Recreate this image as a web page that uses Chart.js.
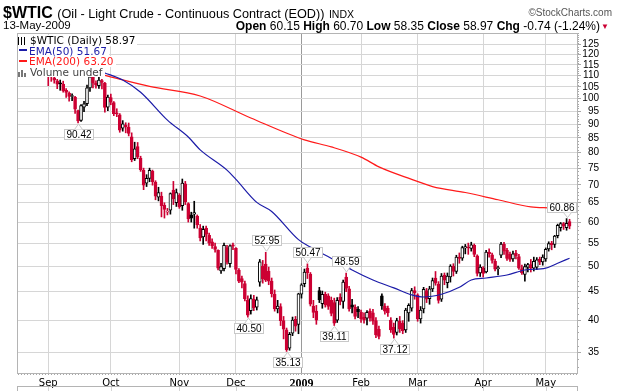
<!DOCTYPE html>
<html>
<head>
<meta charset="utf-8">
<script src="https://cdn.jsdelivr.net/npm/chart.js@4.4.0/dist/chart.umd.min.js"></script>
<style>
html, body { margin: 0; padding: 0; background: #fff; }
#wrap { position: relative; width: 621px; height: 391px; overflow: hidden; }
#c { position: absolute; left: 0; top: 0; }
.t { position: absolute; white-space: nowrap; font-family: "Liberation Sans", Arial, sans-serif; color: #000; }
#leg { position: absolute; left: 18px; top: 35px; font: 10.5px "DejaVu Sans", sans-serif; }
#leg div { background: #fff; width: fit-content; height: 10.5px; line-height: 10.5px; padding-right: 2px; white-space: nowrap; }
.dash { display: inline-block; width: 8px; height: 2px; margin: 0 2px 3px 1px; vertical-align: middle; }
.ic { display: inline-block; width: 9px; height: 8px; margin-right: 3px; vertical-align: -1px; }
</style>
</head>
<body>
<div id="wrap">
  <canvas id="c" width="621" height="391"></canvas>

  <div class="t" style="left:3px; top:4px;"><span style="font-weight:bold; font-size:16px;">$WTIC</span> <span style="font-size:12.7px;">(Oil - Light Crude - Continuous Contract (EOD))</span> <span style="font-size:10.5px;">INDX</span></div>
  <div class="t" style="right:9px; top:7px; font-size:10px; color:#555;">&copy;StockCharts.com</div>
  <div class="t" style="left:3px; top:19px; font-size:11.5px;">13-May-2009</div>
  <div class="t" style="right:21px; top:19px; font-size:12px;"><b>Open</b> 60.15 <b>High</b> 60.70 <b>Low</b> 58.35 <b>Close</b> 58.97 <b>Chg</b> -0.74 (-1.24%)</div>
  <div class="t" style="right:12px; top:22px; font-size:8px; color:#cc0033;">&#9660;</div>

  <div id="leg">
    <div><span class="ic" style="background:linear-gradient(90deg,#000 0 1px,transparent 1px 3px,#000 3px 4px,transparent 4px 6px,#000 6px 7px,transparent 7px);"></span>$WTIC (Daily) 58.97</div>
    <div style="color:#1c1ca8;"><span class="dash" style="background:#1c1ca8;"></span>EMA(50) 51.67</div>
    <div style="color:#ff1a1a;"><span class="dash" style="background:#ff1a1a;"></span>EMA(200) 63.20</div>
    <div style="color:#444;"><span class="ic" style="background:linear-gradient(0deg,#777 0 5px,transparent 5px) 0 0/2px 8px no-repeat, linear-gradient(0deg,#777 0 7px,transparent 7px) 3px 0/2px 8px no-repeat, linear-gradient(0deg,#777 0 4px,transparent 4px) 6px 0/2px 8px no-repeat;"></span>Volume undef</div>
  </div>
</div>

<script>
// empty slots before/after the data (Aug is hidden under the legend)
const augDates = ['2008-08-18','2008-08-19','2008-08-20','2008-08-21','2008-08-22','2008-08-25','2008-08-26','2008-08-27','2008-08-28','2008-08-29'];
const padDates = ['2009-05-14','2009-05-15'];

const dates = [
  '2008-09-02','2008-09-03','2008-09-04','2008-09-05','2008-09-08','2008-09-09','2008-09-10','2008-09-11','2008-09-12','2008-09-15','2008-09-16','2008-09-17','2008-09-18','2008-09-19','2008-09-22','2008-09-23','2008-09-24','2008-09-25','2008-09-26','2008-09-29','2008-09-30',
  '2008-10-01','2008-10-02','2008-10-03','2008-10-06','2008-10-07','2008-10-08','2008-10-09','2008-10-10','2008-10-13','2008-10-14','2008-10-15','2008-10-16','2008-10-17','2008-10-20','2008-10-21','2008-10-22','2008-10-23','2008-10-24','2008-10-27','2008-10-28','2008-10-29','2008-10-30','2008-10-31',
  '2008-11-03','2008-11-04','2008-11-05','2008-11-06','2008-11-07','2008-11-10','2008-11-11','2008-11-12','2008-11-13','2008-11-14','2008-11-17','2008-11-18','2008-11-19','2008-11-20','2008-11-21','2008-11-24','2008-11-25','2008-11-26','2008-11-28',
  '2008-12-01','2008-12-02','2008-12-03','2008-12-04','2008-12-05','2008-12-08','2008-12-09','2008-12-10','2008-12-11','2008-12-12','2008-12-15','2008-12-16','2008-12-17','2008-12-18','2008-12-19','2008-12-22','2008-12-23','2008-12-24','2008-12-26','2008-12-29','2008-12-30','2008-12-31',
  '2009-01-02','2009-01-05','2009-01-06','2009-01-07','2009-01-08','2009-01-09','2009-01-12','2009-01-13','2009-01-14','2009-01-15','2009-01-16','2009-01-20','2009-01-21','2009-01-22','2009-01-23','2009-01-26','2009-01-27','2009-01-28','2009-01-29','2009-01-30',
  '2009-02-02','2009-02-03','2009-02-04','2009-02-05','2009-02-06','2009-02-09','2009-02-10','2009-02-11','2009-02-12','2009-02-13','2009-02-17','2009-02-18','2009-02-19','2009-02-20','2009-02-23','2009-02-24','2009-02-25','2009-02-26','2009-02-27',
  '2009-03-02','2009-03-03','2009-03-04','2009-03-05','2009-03-06','2009-03-09','2009-03-10','2009-03-11','2009-03-12','2009-03-13','2009-03-16','2009-03-17','2009-03-18','2009-03-19','2009-03-20','2009-03-23','2009-03-24','2009-03-25','2009-03-26','2009-03-27','2009-03-30','2009-03-31',
  '2009-04-01','2009-04-02','2009-04-03','2009-04-06','2009-04-07','2009-04-08','2009-04-09','2009-04-13','2009-04-14','2009-04-15','2009-04-16','2009-04-17','2009-04-20','2009-04-21','2009-04-22','2009-04-23','2009-04-24','2009-04-27','2009-04-28','2009-04-29','2009-04-30',
  '2009-05-01','2009-05-04','2009-05-05','2009-05-06','2009-05-07','2009-05-08','2009-05-11','2009-05-12','2009-05-13'
];

const opens = [
  113.5,109.5,109.0,107.6,106.6,106.2,103.5,102.3,100.9,100.5,95.2,91.4,96.5,97.9,104.5,109.4,106.6,105.5,107.8,106.5,96.5,
  100.4,98.4,94.2,93.5,88.5,89.6,88.9,85.4,78.0,82.0,78.2,74.3,70.5,71.9,74.0,70.8,66.5,66.8,64.3,62.5,63.0,68.5,65.0,
  67.0,64.2,70.3,64.8,61.8,62.0,61.5,58.5,56.4,58.5,56.8,55.3,54.2,53.4,49.0,49.5,54.0,50.5,54.6,
  53.8,49.2,47.5,46.5,43.5,41.6,43.6,42.2,46.8,50.0,50.4,49.0,47.0,44.5,41.9,42.3,39.9,38.4,35.6,37.9,40.1,39.3,
  44.5,46.5,49.6,48.4,42.4,41.5,45.2,42.8,44.5,44.2,43.4,43.0,40.0,44.0,43.2,47.8,45.5,42.6,42.2,41.8,
  41.3,40.5,40.3,41.5,41.2,39.9,38.5,44.2,42.4,42.0,40.0,38.8,38.0,39.8,39.5,38.4,41.2,42.0,45.2,
  44.4,40.2,41.9,45.2,43.7,45.5,47.6,46.4,43.6,48.2,46.7,47.8,50.0,48.9,51.9,51.7,53.9,54.1,53.8,54.5,52.2,48.6,
  49.6,48.8,53.0,52.4,51.0,49.5,52.3,54.8,53.4,52.5,51.5,52.8,52.0,49.5,48.3,49.8,50.3,49.6,49.8,51.5,50.9,
  51.5,53.7,55.0,54.7,56.7,58.6,59.6,58.6,60.15
];
const highs = [
  115.0,111.0,109.6,108.3,108.0,107.5,104.2,102.8,102.0,101.0,95.4,97.6,98.9,105.8,110.5,110.0,107.6,109.2,108.3,107.0,101.5,
  101.9,98.8,95.9,94.0,91.3,90.5,90.4,86.8,83.5,83.4,78.8,75.0,73.0,75.0,74.4,71.2,69.3,67.9,65.0,63.5,67.7,71.0,68.8,
  67.5,71.7,71.0,65.0,62.5,65.4,61.8,59.4,59.0,59.0,57.3,56.0,55.0,53.5,50.6,55.0,54.5,54.6,55.0,
  54.0,49.5,48.0,47.0,44.2,44.4,44.3,44.0,51.4,51.2,52.95,49.8,47.6,45.3,43.4,42.8,40.6,38.7,38.0,40.5,40.6,44.7,
  46.5,49.4,50.47,48.7,43.4,42.5,45.8,45.1,44.9,44.6,44.0,43.8,43.9,44.6,47.2,48.59,46.0,43.6,42.6,42.3,
  41.7,41.2,41.6,41.9,41.8,40.4,39.0,44.6,42.8,42.4,40.4,39.5,40.3,40.6,39.9,42.0,42.8,45.6,45.9,
  44.6,42.3,45.8,45.6,46.0,47.6,48.9,46.9,48.5,48.6,48.6,50.3,50.5,52.3,52.8,54.3,54.7,55.0,55.2,54.8,52.4,50.3,
  49.9,53.4,53.7,52.8,51.5,50.0,55.2,55.2,53.8,53.0,53.2,53.4,52.5,50.2,50.4,50.6,51.4,51.9,51.8,51.9,52.4,
  53.9,55.3,55.4,56.8,59.5,59.9,59.9,60.86,60.70
];
const lows = [
  105.5,107.4,106.6,104.2,103.5,102.7,100.5,99.0,99.2,94.1,90.42,91.0,94.7,97.1,103.0,104.5,104.4,104.3,104.1,94.5,95.1,
  97.5,93.2,92.8,87.0,87.4,86.8,85.7,77.0,77.4,78.0,74.0,68.6,69.5,70.9,69.9,65.8,65.5,61.3,61.0,61.8,62.0,64.5,64.0,
  63.5,63.0,64.5,60.0,60.0,58.5,58.5,55.5,54.7,55.5,54.5,53.8,53.0,49.2,48.5,49.0,50.4,49.8,53.5,
  48.4,46.7,45.7,43.3,40.5,41.0,41.6,41.7,46.0,46.6,46.9,46.3,44.0,41.5,41.2,39.1,37.0,35.13,35.3,37.5,38.2,37.8,
  43.8,45.9,47.5,42.4,40.4,39.3,43.0,42.0,42.2,41.8,40.7,39.11,39.6,42.6,42.0,45.0,41.5,41.2,40.2,40.4,
  39.6,39.5,39.2,39.8,39.3,37.2,37.0,41.8,41.0,40.6,38.0,37.12,37.6,38.0,37.8,38.0,39.8,41.5,43.6,
  39.8,39.5,41.2,43.0,42.7,45.0,46.2,42.9,43.2,46.3,45.7,46.8,48.0,48.5,50.6,51.2,52.6,52.5,53.2,52.0,48.0,47.9,
  47.8,48.6,51.9,50.6,49.0,48.2,51.8,52.5,51.2,51.0,51.0,51.5,49.3,48.3,47.0,48.8,48.8,49.0,49.3,50.3,50.2,
  51.0,53.2,53.5,54.0,56.2,57.8,58.2,58.0,58.35
];
const closes = [
  109.7,109.4,107.9,106.2,106.3,103.3,102.6,100.9,101.2,95.7,91.2,97.2,97.9,104.6,109.4,106.6,105.7,108.0,106.9,96.4,100.6,
  98.5,94.0,93.9,87.8,90.1,89.0,86.6,77.7,81.2,78.6,74.5,69.9,71.9,74.3,70.9,66.8,67.8,64.2,63.2,62.7,67.5,66.0,67.8,
  63.9,70.5,65.3,60.8,61.0,62.4,59.3,56.2,58.2,57.0,55.0,54.4,53.6,49.6,49.9,54.5,50.8,54.4,54.3,
  49.3,47.0,46.8,43.7,40.8,43.7,42.1,43.5,50.9,47.4,47.2,47.0,44.6,41.9,42.4,39.9,38.5,35.4,37.7,40.0,39.0,44.6,
  46.3,48.8,48.6,42.7,41.3,40.0,43.5,44.5,42.6,42.3,41.1,39.5,43.4,43.2,46.8,45.6,41.9,42.2,40.6,41.4,
  40.2,40.0,41.3,40.3,39.8,37.6,37.4,42.4,41.5,41.2,38.4,37.7,39.9,38.6,38.3,41.7,42.5,45.2,44.8,
  40.2,41.7,45.4,43.6,45.5,47.1,46.6,43.4,48.0,47.2,48.0,50.0,48.9,51.9,51.6,54.0,54.2,53.9,54.6,52.5,48.5,49.8,
  48.5,53.0,52.6,51.2,49.4,49.6,54.8,53.2,51.6,51.4,52.6,52.2,49.6,48.6,49.9,50.3,49.6,51.0,51.3,50.8,51.9,
  53.6,54.9,54.6,56.6,59.2,59.6,59.0,59.71,58.97
];

// moving averages at a few points (index into dates)
const ema50Idx  = [15, 19, 25, 31, 40, 47, 51, 60, 63, 70, 75, 84, 88, 96, 102, 109, 116, 122, 126, 132, 138, 142, 147, 154, 160, 167, 171, 175];
const ema50Vals = [113.1, 111.2, 108.0, 102.7, 91.5, 85.3, 80.9, 74.4, 71.6, 65.1, 62.7, 55.8, 54.1, 51.3, 49.2, 47.2, 45.7, 44.4, 44.0, 44.5, 45.8, 47.2, 47.6, 48.2, 49.2, 49.6, 50.6, 51.67];
const ema200Idx  = [17, 34, 51, 68, 86, 95, 105, 111, 122, 129, 140, 151, 162, 169, 175];
const ema200Vals = [110.8, 105.2, 101.1, 92.3, 84.3, 81.9, 78.5, 75.4, 71.6, 69.5, 67.8, 65.8, 63.9, 63.6, 63.2];

// labelled highs / lows
const annIdx  = [10, 67, 73, 80, 87, 96, 100, 116, 174];
const annSide = ['low', 'low', 'high', 'low', 'high', 'low', 'high', 'low', 'high'];

const monthTickDates  = ['2008-09-02','2008-10-01','2008-11-03','2008-12-01','2009-01-02','2009-02-02','2009-03-02','2009-04-01','2009-05-01'];
const monthTickLabels = ['Sep','Oct','Nov','Dec','2009','Feb','Mar','Apr','May'];
const yTicks = [35, 40, 45, 50, 55, 60, 65, 70, 75, 80, 85, 90, 95, 100, 105, 110, 115, 120, 125];

const RED = '#cc0033';
const BLACK = '#000000';

const labels = augDates.concat(dates, padDates);
const off = augDates.length;

function atSlot(fn) {
  return labels.map((_, k) => {
    const i = k - off;
    return (i >= 0 && i < dates.length) ? fn(i) : null;
  });
}
const isUp = i => i === 0 ? false : closes[i] >= closes[i - 1];
const candleColor = atSlot(i => isUp(i) ? BLACK : RED);
const bodyFill = atSlot(i => closes[i] > opens[i] ? '#ffffff' : (isUp(i) ? BLACK : RED));

const tickLabelAt = {};
monthTickDates.forEach((d, j) => { tickLabelAt[labels.indexOf(d)] = monthTickLabels[j]; });

const extras = {
  id: 'extras',
  afterDatasetsDraw(chart) {
    const c = chart.ctx, ca = chart.chartArea, xs = chart.scales.x, ys = chart.scales.y;
    c.save();
    // minor ticks on the price axis
    c.strokeStyle = '#a8a8a8';
    c.lineWidth = 1;
    c.beginPath();
    for (let v = 33; v <= 131; v++) {
      if (yTicks.includes(v)) continue;
      const y = Math.round(ys.getPixelForValue(v)) + 0.5;
      c.moveTo(ca.right, y); c.lineTo(ca.right + 2, y);
    }
    // day ticks along the bottom
    for (let k = 0; k < labels.length; k++) {
      const x = Math.round(xs.getPixelForValue(k)) + 0.5;
      c.moveTo(x, ca.bottom); c.lineTo(x, ca.bottom + 2);
    }
    c.stroke();
    // plot frame
    c.strokeStyle = '#b4b4b4';
    c.strokeRect(ca.left + 0.5, ca.top + 0.5, ca.right - ca.left, ca.bottom - ca.top);
    // top of the lower panel
    c.beginPath();
    c.moveTo(ca.left, 386.5); c.lineTo(ca.right + 1, 386.5);
    c.moveTo(ca.left + 0.5, 386); c.lineTo(ca.left + 0.5, 391);
    c.moveTo(ca.right + 0.5, 386); c.lineTo(ca.right + 0.5, 391);
    c.stroke();
    c.strokeStyle = '#d6d6d6';
    c.beginPath();
    Object.keys(tickLabelAt).forEach(k => {
      const x = Math.round(xs.getPixelForValue(+k)) + 0.5;
      c.moveTo(x, 387); c.lineTo(x, 391);
    });
    c.stroke();

    // value labels
    c.font = '10px "Liberation Sans", Arial, sans-serif';
    c.textBaseline = 'middle';
    c.textAlign = 'center';
    annIdx.forEach((i, j) => {
      const low = annSide[j] === 'low';
      const v = low ? lows[i] : highs[i];
      const txt = v.toFixed(2);
      const px = Math.round(xs.getPixelForValue(i + off)) + 0.5;
      const py = ys.getPixelForValue(v);
      const w = Math.round(c.measureText(txt).width) + 5, h = 11;
      let bx = Math.round(px - w / 2);
      bx = Math.min(bx, ca.right - w);
      const by = low ? Math.round(py + 6) : Math.round(py - 6 - h);
      c.fillStyle = '#fff';
      c.fillRect(bx, by, w, h);
      c.strokeStyle = '#c8c8c8';
      c.strokeRect(bx + 0.5, by + 0.5, w - 1, h - 1);
      const ey = low ? by + 0.5 : by + h - 0.5;
      const ty = low ? py + 1 : py - 1;
      c.beginPath();
      c.moveTo(px - 4, ey); c.lineTo(px, ty); c.lineTo(px + 4, ey);
      c.closePath();
      c.fill();
      c.beginPath();
      c.moveTo(px - 4, ey); c.lineTo(px, ty); c.lineTo(px + 4, ey);
      c.stroke();
      c.fillStyle = '#000';
      c.fillText(txt, bx + w / 2, by + h / 2 + 0.5);
    });
    c.restore();
  }
};

new Chart(document.getElementById('c'), {
  type: 'bar',
  data: {
    labels: labels,
    datasets: [
      {
        type: 'line',
        label: 'EMA(50)',
        data: ema50Idx.map((i, j) => ({ x: dates[i], y: ema50Vals[j] })),
        borderColor: '#1c1ca8',
        borderWidth: 1.2,
        pointRadius: 0,
        cubicInterpolationMode: 'monotone',
        order: 0
      },
      {
        type: 'line',
        label: 'EMA(200)',
        data: ema200Idx.map((i, j) => ({ x: dates[i], y: ema200Vals[j] })),
        borderColor: '#ff1a1a',
        borderWidth: 1.2,
        pointRadius: 0,
        cubicInterpolationMode: 'monotone',
        order: 0
      },
      {
        label: 'body',
        data: atSlot(i => [Math.min(opens[i], closes[i]), Math.max(opens[i], closes[i])]),
        backgroundColor: bodyFill,
        borderColor: candleColor,
        borderWidth: 1,
        borderSkipped: false,
        barThickness: 3,
        minBarLength: 1,
        grouped: false,
        order: 1
      },
      {
        label: 'wick',
        data: atSlot(i => [lows[i], highs[i]]),
        backgroundColor: candleColor,
        borderWidth: 0,
        barThickness: 1,
        grouped: false,
        order: 2
      }
    ]
  },
  options: {
    responsive: false,
    animation: false,
    devicePixelRatio: 1,
    layout: { padding: { left: 17, top: 33, right: 22, bottom: 0 } },
    plugins: { legend: { display: false }, tooltip: { enabled: false } },
    scales: {
      x: {
        type: 'category',
        offset: true,
        grid: {
          offset: false,
          drawTicks: false,
          color: ctx => {
            const l = tickLabelAt[ctx.index];
            if (!l) return 'rgba(0,0,0,0)';
            return l === '2009' ? '#9a9a9a' : '#d6d6d6';
          }
        },
        border: { display: false },
        ticks: {
          autoSkip: false,
          maxRotation: 0,
          padding: 4,
          color: '#000',
          callback: (v, i) => tickLabelAt[i] || '',
          font: ctx => tickLabelAt[ctx.index] === '2009'
            ? { family: '"Liberation Serif", serif', size: 12, weight: 'bold' }
            : { family: '"DejaVu Sans", sans-serif', size: 10 }
        },
        afterFit: s => { s.height = 18; }
      },
      y: {
        type: 'logarithmic',
        position: 'right',
        min: 32.13,
        max: 131.2,
        afterBuildTicks: s => { s.ticks = yTicks.map(v => ({ value: v })); },
        grid: { color: '#d6d6d6', tickColor: '#a8a8a8', tickLength: 4 },
        border: { display: false },
        ticks: {
          padding: 1,
          crossAlign: 'far',
          color: '#000',
          font: { family: '"Liberation Sans", Arial, sans-serif', size: 10 },
          callback: v => String(v)
        },
        afterFit: s => { s.width = 22; }
      }
    }
  },
  plugins: [extras]
});
</script>
</body>
</html>
